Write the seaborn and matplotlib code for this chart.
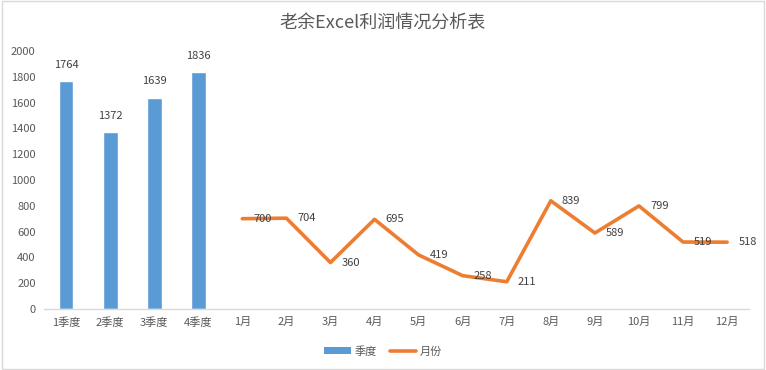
import numpy as np
import pandas as pd
import matplotlib
matplotlib.use('Agg')
import matplotlib.pyplot as plt
import seaborn as sns
from matplotlib.patches import Patch
from matplotlib.lines import Line2D

# data
quarters = ['1季度', '2季度', '3季度', '4季度']
quarter_values = [1764, 1372, 1639, 1836]
months = ['1月', '2月', '3月', '4月', '5月', '6月', '7月', '8月', '9月', '10月', '11月', '12月']
month_values = [700, 704, 360, 695, 419, 258, 211, 839, 589, 799, 519, 518]
title = '老余Excel利润情况分析表'

categories = quarters + months
blue = '#5B9BD5'
orange = '#ED7D31'
text_gray = '#595959'

sns.set_theme(style='white')
plt.rcParams['font.family'] = ['Noto Sans CJK SC', 'DejaVu Sans']

fig = plt.figure(figsize=(7.66, 3.70), dpi=100)
ax = fig.add_axes([0.0574, 0.165, 0.9206, 0.697])

q_df = pd.DataFrame({'cat': quarters, 'value': quarter_values})
sns.barplot(data=q_df, x='cat', y='value', order=categories, color=blue,
            width=0.34, saturation=1, ax=ax)

month_pos = [categories.index(m) for m in months]
sns.lineplot(x=month_pos, y=month_values, color=orange, linewidth=2.6,
             ax=ax, sort=False)

# labels
for i, v in enumerate(quarter_values):
    ax.annotate(str(v), (i, v), xytext=(0, 8), textcoords='offset points',
                ha='center', va='bottom', fontsize=8, color='#404040')
for p, v in zip(month_pos, month_values):
    ax.annotate(str(v), (p, v), xytext=(8, 0), textcoords='offset points',
                ha='left', va='center', fontsize=8, color='#404040')

ax.set_xlim(-0.5, len(categories) - 0.5)
ax.set_ylim(0, 2000)
ax.set_yticks(np.arange(0, 2001, 200))
ax.set_xlabel('')
ax.set_ylabel('')
ax.tick_params(axis='both', labelsize=8, colors=text_gray, length=0, pad=6)
for s in ['top', 'right', 'left']:
    ax.spines[s].set_visible(False)
ax.spines['bottom'].set_color('#d9d9d9')
ax.spines['bottom'].set_linewidth(1)

fig.text(0.5, 0.935, title, ha='center', va='center', fontsize=13, color=text_gray)

handles = [Patch(facecolor=blue, edgecolor='none'),
           Line2D([0], [0], color=orange, linewidth=2.6)]
fig.legend(handles, ['季度', '月份'], loc='center', bbox_to_anchor=(0.5, 0.05),
           ncol=2, frameon=False, fontsize=8, labelcolor=text_gray,
           handlelength=2.4, handleheight=0.6, columnspacing=1.2, handletextpad=0.3)

fig.patches.append(plt.Rectangle((0.002, 0.003), 0.996, 0.994, transform=fig.transFigure,
                                 fill=False, edgecolor='#d9d9d9', linewidth=1))

fig.savefig('out.png', dpi=100, facecolor='white')
